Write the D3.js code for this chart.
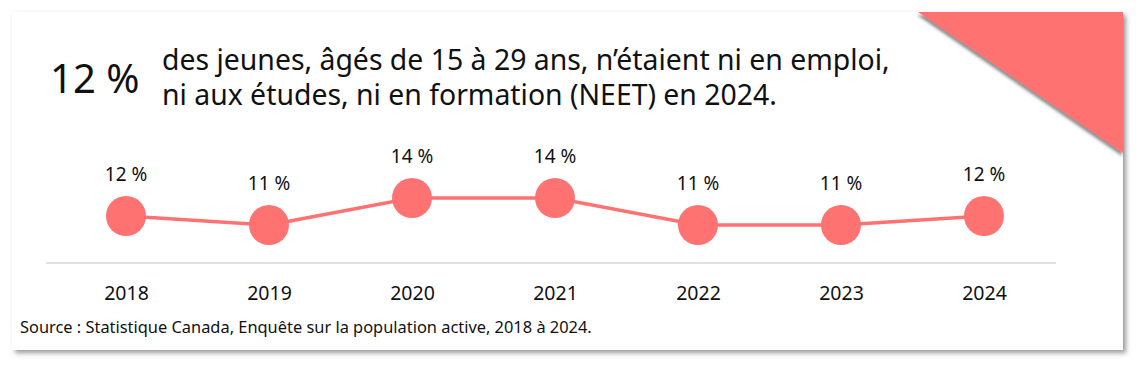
<!DOCTYPE html>
<html><head><meta charset="utf-8">
<script src="https://cdn.jsdelivr.net/npm/d3@7"></script>
<style>html,body{margin:0;padding:0;background:#fff;}svg{display:block;font-family:"Noto Sans",sans-serif;}</style>
</head><body><div id="chart"></div>
<script>
const years = ["2018","2019","2020","2021","2022","2023","2024"];
const values = [12, 11, 14, 14, 11, 11, 12];
const valueLabels = ["12 %","11 %","14 %","14 %","11 %","11 %","12 %"];
const headline = "12 %";
const titleLines = ["des jeunes, âgés de 15 à 29 ans, n’étaient ni en emploi,", "ni aux études, ni en formation (NEET) en 2024."];
const source = "Source : Statistique Canada, Enquête sur la population active, 2018 à 2024.";

const W = 1140, H = 366, color = "#ff7272";
const svg = d3.select("#chart").append("svg").attr("width", W).attr("height", H);
const defs = svg.append("defs");
const f = defs.append("filter").attr("id","sh").attr("x","-5%").attr("y","-5%").attr("width","110%").attr("height","120%");
f.append("feDropShadow").attr("dx",3).attr("dy",3).attr("stdDeviation",2.5).attr("flood-color","#555").attr("flood-opacity",0.6);
const f2 = defs.append("filter").attr("id","sh2").attr("x","-20%").attr("y","-20%").attr("width","140%").attr("height","140%");
f2.append("feDropShadow").attr("dx",-1).attr("dy",3).attr("stdDeviation",1.5).attr("flood-color","#444").attr("flood-opacity",0.6);

svg.append("rect").attr("x",12).attr("y",12).attr("width",1111).attr("height",338).attr("fill","#fff").attr("filter","url(#sh)");
svg.append("path").attr("d","M918,12 L1123,12 L1123,153 Z").attr("fill",color).attr("filter","url(#sh2)");

svg.append("text").attr("x",50).attr("y",93).attr("font-size",40).attr("fill","#111").text(headline);
svg.append("g").selectAll("text").data(titleLines).join("text")
  .attr("x",162).attr("y",(d,i)=>70+i*35).attr("font-size",28.4).attr("fill","#111").text(d=>d);

const x = d3.scalePoint().domain(years).range([126,984]);
const y = d3.scaleLinear().domain([10,15]).range([234,189]);

svg.append("line").attr("x1",46).attr("x2",1056).attr("y1",263).attr("y2",263)
  .attr("stroke","#d9d9d9").attr("stroke-width",1.5);
const ax = svg.append("g").attr("transform","translate(0,263)")
  .call(d3.axisBottom(x).tickSize(0).tickPadding(0).tickSizeOuter(0));
ax.select(".domain").remove();
ax.selectAll("text").attr("font-size",19.5).attr("fill","#111").attr("font-family","'Noto Sans',sans-serif").attr("dy",null).attr("y",37);

const line = d3.line().x((d,i)=>x(years[i])).y(d=>y(d));
svg.append("path").datum(values).attr("d",line).attr("fill","none").attr("stroke",color).attr("stroke-width",3.5);
svg.append("g").selectAll("circle").data(values).join("circle")
  .attr("cx",(d,i)=>x(years[i])).attr("cy",d=>y(d)).attr("r",20).attr("fill",color);
svg.append("g").selectAll("text").data(values).join("text")
  .attr("x",(d,i)=>x(years[i])).attr("y",d=>y(d)-35).attr("text-anchor","middle")
  .attr("font-size",19).attr("fill","#111").text((d,i)=>valueLabels[i]);

svg.append("text").attr("x",20).attr("y",333).attr("font-size",16.4).attr("fill","#111").text(source);
</script></body></html>
